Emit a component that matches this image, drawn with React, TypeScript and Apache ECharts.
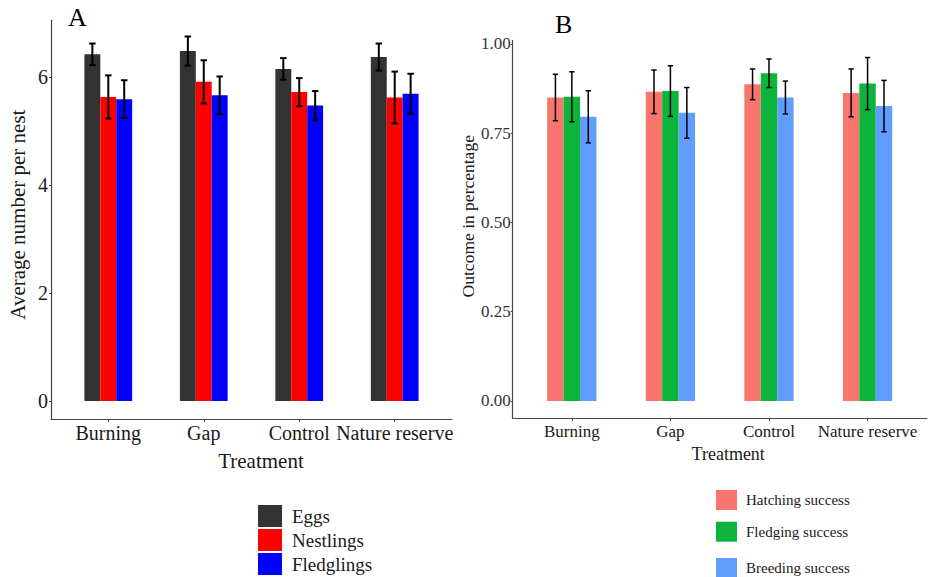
import React, { useEffect, useRef } from "react";
import * as echarts from "echarts";

const categories = ["Burning", "Gap", "Control", "Nature reserve"];

// Panel A: average number per nest
const eggs = [6.42, 6.48, 6.15, 6.37];
const eggsSE = [0.2, 0.27, 0.2, 0.25];
const nestlings = [5.63, 5.91, 5.72, 5.62];
const nestlingsSE = [0.4, 0.4, 0.26, 0.48];
const fledglings = [5.59, 5.66, 5.47, 5.69];
const fledglingsSE = [0.35, 0.35, 0.27, 0.37];

// Panel B: outcome in percentage
const hatching = [0.85, 0.866, 0.887, 0.863];
const hatchingSE = [0.065, 0.061, 0.043, 0.067];
const fledging = [0.852, 0.868, 0.918, 0.889];
const fledgingSE = [0.07, 0.071, 0.04, 0.073];
const breeding = [0.796, 0.807, 0.85, 0.826];
const breedingSE = [0.073, 0.071, 0.046, 0.072];

const ticksA = [0, 2, 4, 6];
const ticksB = [0, 0.25, 0.5, 0.75, 1];
const catPositions = [1, 2, 3, 4];

const FONT = "'Liberation Serif', 'Times New Roman', serif";
const TXT = "#1a1a1a";
const AXIS = "#444";

function barSeries(name: string, vals: number[], color: string, axis: number) {
  return {
    type: "bar",
    name,
    xAxisIndex: axis,
    yAxisIndex: axis,
    barWidth: `${100 / 6}%`,
    barGap: "0%",
    itemStyle: { color },
    data: vals.map((v, i) => [catPositions[i], v]),
  };
}

function errSeries(vals: number[], se: number[], k: number, axis: number, lw: number, capFrac: number) {
  return {
    type: "custom",
    xAxisIndex: axis,
    yAxisIndex: axis,
    z: 5,
    encode: { x: 0, y: [1, 2] },
    data: vals.map((v, i) => [catPositions[i], v - se[i], v + se[i]]),
    renderItem: (params: any, api: any) => {
      const x = api.value(0);
      const lo = api.value(1);
      const hi = api.value(2);
      const band = api.size([1, 0])[0];
      const off = ((k - 1) * band) / 6;
      const pLo = api.coord([x, lo]);
      const pHi = api.coord([x, hi]);
      const cx = pLo[0] + off;
      const hw = band * capFrac;
      const style = { stroke: "#000", lineWidth: lw };
      return {
        type: "group",
        children: [
          { type: "line", shape: { x1: cx, y1: pLo[1], x2: cx, y2: pHi[1] }, style },
          { type: "line", shape: { x1: cx - hw, y1: pHi[1], x2: cx + hw, y2: pHi[1] }, style },
          { type: "line", shape: { x1: cx - hw, y1: pLo[1], x2: cx + hw, y2: pLo[1] }, style },
        ],
      };
    },
  };
}

export default function App() {
  const ref = useRef<HTMLDivElement>(null);
  useEffect(() => {
    if (!ref.current) return;
    const chart = echarts.init(ref.current, undefined, { renderer: "svg" });
    const xAxisBase = (axisFont: number, margin: number, name: string, nameFont: number, nameGap: number, shift: number, grid: number) => ({
      type: "value",
      gridIndex: grid,
      min: 0.4,
      max: 4.6,
      axisLine: { show: true, onZero: false, lineStyle: { color: AXIS, width: 1.2 } },
      axisTick: { show: true, customValues: catPositions, length: 3, lineStyle: { color: AXIS } },
      axisLabel: {
        customValues: catPositions,
        formatter: (v: number) => categories[Math.round(v) - 1] ?? "",
        fontFamily: FONT,
        fontSize: axisFont,
        color: TXT,
        margin,
      },
      splitLine: { show: false },
      name,
      nameLocation: "middle",
      nameGap,
      nameTextStyle: { fontFamily: FONT, fontSize: nameFont, color: TXT, padding: [0, 0, 0, shift] },
    });
    const option: any = {
      animation: false,
      backgroundColor: "#fff",
      title: [
        { text: "A", left: 68, top: 4, padding: 0, textStyle: { fontFamily: FONT, fontSize: 26, fontWeight: "normal", color: "#000" } },
        { text: "B", left: 555, top: 11, padding: 0, textStyle: { fontFamily: FONT, fontSize: 26, fontWeight: "normal", color: "#000" } },
      ],
      grid: [
        { left: 51, top: 20.3, width: 401, height: 398.7 },
        { left: 512.7, top: 40.4, width: 414, height: 377.7 },
      ],
      xAxis: [
        xAxisBase(20, 4, "Treatment", 21, 31, 19, 0),
        xAxisBase(17, 5, "Treatment", 18, 24, 17, 1),
      ],
      yAxis: [
        {
          type: "value",
          gridIndex: 0,
          min: -0.333,
          max: 7.05,
          axisLine: { show: true, onZero: false, lineStyle: { color: AXIS, width: 1.2 } },
          axisTick: { show: true, customValues: ticksA, length: 2, lineStyle: { color: AXIS } },
          axisLabel: { customValues: ticksA, fontFamily: FONT, fontSize: 20, color: TXT, margin: 3 },
          splitLine: { show: false },
          name: "Average number per nest",
          nameLocation: "middle",
          nameGap: 23,
          nameTextStyle: { fontFamily: FONT, fontSize: 21, color: TXT, padding: [0, 0, 0, 10] },
        },
        {
          type: "value",
          gridIndex: 1,
          min: -0.048,
          max: 1.01,
          axisLine: { show: true, onZero: false, lineStyle: { color: AXIS, width: 1.2 } },
          axisTick: { show: true, customValues: ticksB, length: 2, lineStyle: { color: AXIS } },
          axisLabel: {
            customValues: ticksB,
            formatter: (v: number) => v.toFixed(2),
            fontFamily: FONT,
            fontSize: 17,
            color: "#333",
            margin: 2,
          },
          splitLine: { show: false },
          name: "Outcome in percentage",
          nameLocation: "middle",
          nameGap: 34,
          nameTextStyle: { fontFamily: FONT, fontSize: 17.5, color: TXT, padding: [0, 0, 0, 26] },
        },
      ],
      legend: [
        {
          orient: "vertical",
          left: 258,
          top: 505,
          padding: 0,
          itemWidth: 24,
          itemHeight: 22,
          itemGap: 2,
          icon: "rect",
          selectedMode: false,
          data: ["Eggs", "Nestlings", "Fledglings"],
          textStyle: { fontFamily: FONT, fontSize: 19, color: TXT, padding: [0, 0, 0, 5] },
        },
        {
          left: 716, top: 490, padding: 0, itemWidth: 21, itemHeight: 20, icon: "rect", selectedMode: false,
          data: ["Hatching success"],
          textStyle: { fontFamily: FONT, fontSize: 15, color: TXT, padding: [0, 0, 0, 4] },
        },
        {
          left: 716, top: 521.7, padding: 0, itemWidth: 21, itemHeight: 20, icon: "rect", selectedMode: false,
          data: ["Fledging success"],
          textStyle: { fontFamily: FONT, fontSize: 15, color: TXT, padding: [0, 0, 0, 4] },
        },
        {
          left: 716, top: 558, padding: 0, itemWidth: 21, itemHeight: 20, icon: "rect", selectedMode: false,
          data: ["Breeding success"],
          textStyle: { fontFamily: FONT, fontSize: 15, color: TXT, padding: [0, 0, 0, 4] },
        },
      ],
      series: [
        barSeries("Eggs", eggs, "#333333", 0),
        barSeries("Nestlings", nestlings, "#ff0000", 0),
        barSeries("Fledglings", fledglings, "#0000ff", 0),
        errSeries(eggs, eggsSE, 0, 0, 2, 0.034),
        errSeries(nestlings, nestlingsSE, 1, 0, 2, 0.034),
        errSeries(fledglings, fledglingsSE, 2, 0, 2, 0.034),
        barSeries("Hatching success", hatching, "#f8766d", 1),
        barSeries("Fledging success", fledging, "#0db43c", 1),
        barSeries("Breeding success", breeding, "#619cff", 1),
        errSeries(hatching, hatchingSE, 0, 1, 1.5, 0.027),
        errSeries(fledging, fledgingSE, 1, 1, 1.5, 0.027),
        errSeries(breeding, breedingSE, 2, 1, 1.5, 0.027),
      ],
    };
    chart.setOption(option);
    return () => chart.dispose();
  }, []);
  return (
    <div
      ref={ref}
      style={{ position: "absolute", left: 0, top: 0, width: 933, height: 577, background: "#fff" }}
    />
  );
}
